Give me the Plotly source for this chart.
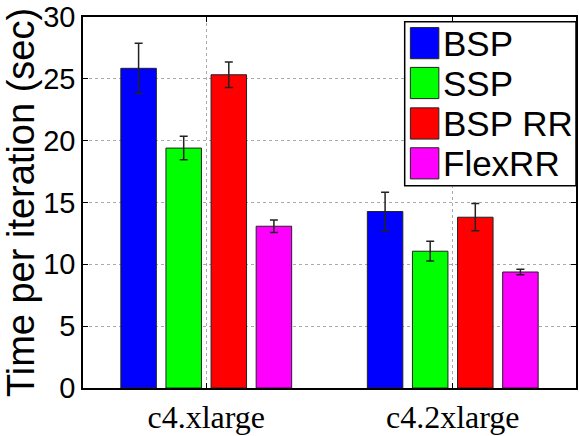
import plotly.graph_objects as go

categories = ["c4.xlarge", "c4.2xlarge"]
series_names = ["BSP", "SSP", "BSP RR", "FlexRR"]
series_colors = ["#0000FF", "#00FF00", "#FF0000", "#FF00FF"]
bsp = [25.85, 14.27]
ssp = [19.40, 11.06]
bsp_rr = [25.33, 13.81]
flexrr = [13.08, 9.38]
bsp_err = [2.03, 1.55]
ssp_err = [0.95, 0.80]
bsp_rr_err = [1.03, 1.10]
flexrr_err = [0.50, 0.22]
yticks = [0, 5, 10, 15, 20, 25, 30]

values = [bsp, ssp, bsp_rr, flexrr]
errors = [bsp_err, ssp_err, bsp_rr_err, flexrr_err]

W, H = 579, 436
ML, MR, MT, MB = 83, 1, 11, 40
PW, PH = W - ML - MR, H - MT - MB

def px(x):
    return (x - ML) / PW

def py(y):
    return (H - MB - y) / PH

fig = go.Figure()
xpos = [1, 2]
for name, col, v, e in zip(series_names, series_colors, values, errors):
    fig.add_trace(go.Bar(
        x=xpos, y=v, name=name,
        marker=dict(color=col, line=dict(color="#222222", width=1)),
        error_y=dict(type="data", array=e, visible=True, color="#222222",
                     thickness=1.5, width=4),
        showlegend=False,
    ))

fig.update_layout(
    width=W, height=H,
    margin=dict(l=ML, r=MR, t=MT, b=MB, pad=0),
    paper_bgcolor="white", plot_bgcolor="white",
    barmode="group", bargap=0.268, bargroupgap=0.213,
    font=dict(family="Liberation Sans, Arial, sans-serif", color="black"),
)
fig.update_xaxes(
    range=[0.5, 2.5], tickmode="array", tickvals=xpos, ticktext=categories,
    tickfont=dict(family="Liberation Serif, Times New Roman, serif", size=32),
    showline=True, linecolor="black", linewidth=1.5, mirror="ticks",
    ticks="inside", ticklen=5, tickcolor="black",
    showgrid=True, gridcolor="#aaaaaa", griddash="dot", gridwidth=1,
    zeroline=False, ticklabeloverflow="allow",
)
fig.update_yaxes(
    range=[0, 30], tickmode="array", tickvals=yticks,
    tickfont=dict(size=29), ticklabeloverflow="allow",
    showline=True, linecolor="black", linewidth=1.5, mirror="ticks",
    ticks="inside", ticklen=5, tickcolor="black",
    showgrid=True, gridcolor="#aaaaaa", griddash="dot", gridwidth=1,
    zeroline=False,
    title=dict(text="Time per iteration (sec)", font=dict(size=38), standoff=1),
)

# Custom legend (large swatches like the original)
shapes = [dict(type="rect", xref="paper", yref="paper",
               x0=px(406), x1=px(578), y0=py(186), y1=py(16),
               line=dict(color="black", width=1.5), fillcolor="white", layer="above")]
rows = [(22, 54.3), (63.3, 95.7), (105.3, 137.7), (146.7, 179)]
annotations = []
for (ya, yb), name, col in zip(rows, series_names, series_colors):
    shapes.append(dict(type="rect", xref="paper", yref="paper",
                       x0=px(411.7), x1=px(440.3), y0=py(yb), y1=py(ya),
                       line=dict(color="#222222", width=1), fillcolor=col, layer="above"))
    annotations.append(dict(xref="paper", yref="paper", x=px(442), y=py((ya + yb) / 2),
                            text=name, showarrow=False, xanchor="left", yanchor="middle",
                            font=dict(size=35, color="black")))
fig.update_layout(shapes=shapes, annotations=annotations)

fig.write_html("out.html")
